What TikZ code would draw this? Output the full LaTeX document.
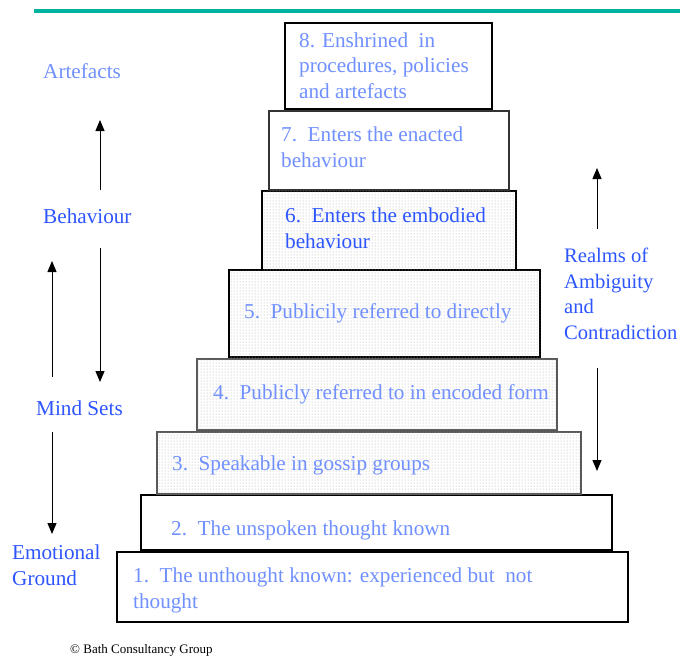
\documentclass[tikz,border=0pt]{standalone}
\usepackage{fontspec}
\setmainfont{Liberation Serif}
\usetikzlibrary{arrows.meta,patterns}
\definecolor{teal1}{RGB}{0,178,160}
\definecolor{lightblue}{RGB}{112,144,255}
\definecolor{strongblue}{RGB}{45,85,255}
\begin{document}
\begin{tikzpicture}[x=1pt,y=-1pt,
  txt/.style={anchor=base west,inner sep=0pt,align=left,font=\fontsize{21.2}{25.5}\selectfont},
  lt/.style={txt,text=lightblue},
  st/.style={txt,text=strongblue},
  plainbox/.style={draw=#1,line width=1.3pt,fill=white},
  dotbox/.style={draw=#1,line width=1.3pt,fill=white,postaction={pattern=dots,pattern color=gray!65}},
  arr/.style={line width=1pt,-{Triangle[length=11pt,width=9pt]}}]
\useasboundingbox (0,0) rectangle (680,657);
% top rule
\draw[teal1,line width=4.5pt] (34,11) -- (680,11);
% boxes (bottom to top)
\path[plainbox=black] (117,552) rectangle (628,622) node[pos=0.5] (b1) {};
\path[plainbox=black] (141,495) rectangle (612,550) node[pos=0.5] (b2) {};
\path[dotbox=gray!70!black] (157,432) rectangle (581,494) node[pos=0.5] (b3) {};
\path[dotbox=gray!70!black] (197,359) rectangle (557,430) node[pos=0.5] (b4) {};
\path[dotbox=black] (229,270) rectangle (540,357) node[pos=0.5] (b5) {};
\path[dotbox=black] (262,191) rectangle (516,270) node[pos=0.5] (b6) {};
\path[plainbox=black!80] (269,111) rectangle (509,190) node[pos=0.5] (b7) {};
\path[plainbox=black] (285,23) rectangle (492,109) node[pos=0.5] (b8) {};
% box texts (multi-line nodes: base = baseline of last line)
\node[lt] (t8) at (299,98) {8. Enshrined\ \ in\\procedures, policies\\and artefacts};
\node[lt] (t7) at (281,167) {7.\ \ Enters the enacted\\behaviour};
\node[st] (t6) at (285,248) {6.\ \ Enters the embodied\\behaviour};
\node[lt] (t5) at (244,318) {5.\ \ Publicily referred to directly};
\node[lt] (t4) at (213,399) {4.\ \ Publicly referred to in encoded form};
\node[lt] (t3) at (172,470) {3.\ \ Speakable in gossip groups};
\node[lt] (t2) at (171,535) {2.\ \ The unspoken thought known};
\node[lt] (t1) at (133,608) {1.\ \ The unthought known: experienced but\ \ not\\thought};
% left labels
\node[lt] (art) at (43,78) {Artefacts};
\node[st] (beh) at (43,223) {Behaviour};
\node[st] (mind) at (36,415) {Mind Sets};
\node[st] (emo) at (12,585) {Emotional\\Ground};
\node[st,font=\fontsize{20.6}{25.5}\selectfont] (realm) at (564,339) {Realms of\\Ambiguity\\and\\Contradiction};
\node[anchor=base west,inner sep=0pt,font=\fontsize{13}{15}\selectfont] (copy) at (70,653) {© Bath Consultancy Group};
% arrows
\coordinate (a1s) at (100,190); \coordinate (a1e) at (100,120);
\coordinate (a2s) at (100,248); \coordinate (a2e) at (100,382);
\coordinate (a3s) at (52,377);  \coordinate (a3e) at (52,261);
\coordinate (a4s) at (52,432);  \coordinate (a4e) at (52,534);
\coordinate (a5s) at (597,229); \coordinate (a5e) at (597,168);
\coordinate (a6s) at (597,368); \coordinate (a6e) at (597,471);
\draw[arr] (a1s) -- (a1e);
\draw[arr] (a2s) -- (a2e);
\draw[arr] (a3s) -- (a3e);
\draw[arr] (a4s) -- (a4e);
\draw[arr] (a5s) -- (a5e);
\draw[arr] (a6s) -- (a6e);
\end{tikzpicture}
\end{document}
